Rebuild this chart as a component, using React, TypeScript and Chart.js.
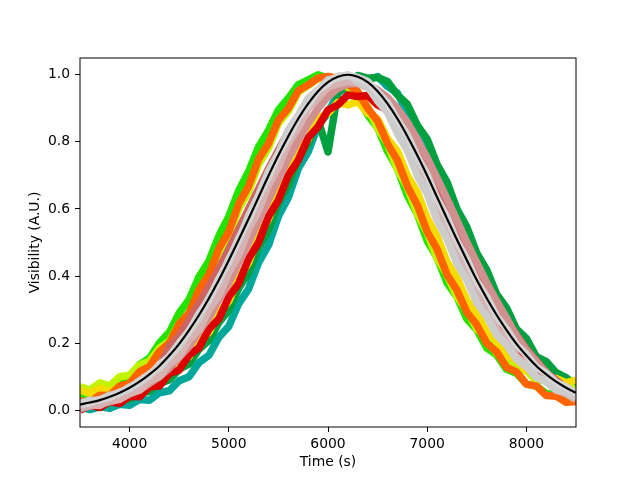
import React, { useEffect, useRef } from "react";
import { Chart, registerables } from "chart.js";

Chart.register(...registerables);

const times = [
  3500, 3600, 3700, 3800, 3900, 4000, 4100, 4200, 4300, 4400,
  4500, 4600, 4700, 4800, 4900, 5000, 5100, 5200, 5300, 5400,
  5500, 5600, 5700, 5800, 5900, 6000, 6100, 6200, 6300, 6400,
  6500, 6600, 6700, 6800, 6900, 7000, 7100, 7200, 7300, 7400,
  7500, 7600, 7700, 7800, 7900, 8000, 8100, 8200, 8300, 8400, 8500,
];

const xTicks = [4000, 5000, 6000, 7000, 8000];
const yTicks = [0, 0.2, 0.4, 0.6, 0.8, 1.0];

// measured traces, drawn bottom -> top
const teal = [0.008,0.002,0.01,0.006,0.018,0.015,0.032,0.03,0.052,0.058,0.088,0.1,0.142,0.164,0.218,0.25,0.318,0.362,0.44,0.492,0.578,0.634,0.72,0.77,0.848,0.886,0.945,0.965,0.99,0.985,0.995,0.965,0.945,0.886,0.848,0.772,0.718,0.636,0.578,0.494,0.44,0.362,0.318,0.25,0.218,0.165,0.14,0.1,0.088,0.058,0.052];
const darkGreen = [0.02,0.014,0.026,0.02,0.035,0.033,0.052,0.056,0.08,0.09,0.122,0.138,0.182,0.208,0.262,0.298,0.364,0.41,0.485,0.536,0.618,0.67,0.748,0.795,0.865,0.77,0.95,0.97,0.998,0.99,0.992,0.98,0.94,0.912,0.85,0.808,0.732,0.68,0.6,0.546,0.468,0.418,0.346,0.305,0.242,0.214,0.16,0.145,0.112,0.097,0.072];
const brightGreen = [0.04,0.036,0.058,0.064,0.09,0.1,0.136,0.155,0.2,0.232,0.29,0.33,0.398,0.445,0.52,0.578,0.655,0.712,0.785,0.834,0.895,0.93,0.97,0.985,1.0,0.99,0.992,0.96,0.935,0.88,0.842,0.772,0.72,0.64,0.585,0.505,0.455,0.38,0.338,0.272,0.24,0.186,0.165,0.122,0.11,0.078,0.072,0.05,0.046,0.03,0.03];
const yellowGreen = [0.07,0.06,0.082,0.072,0.1,0.104,0.135,0.146,0.185,0.205,0.258,0.288,0.352,0.392,0.468,0.518,0.6,0.652,0.732,0.782,0.855,0.892,0.948,0.968,0.99,0.985,0.98,0.965,0.93,0.905,0.84,0.795,0.718,0.665,0.585,0.53,0.452,0.405,0.338,0.3,0.242,0.218,0.17,0.158,0.12,0.118,0.088,0.09,0.07,0.078,0.06];
const yellow = [0.06,0.05,0.065,0.055,0.07,0.066,0.085,0.082,0.11,0.115,0.148,0.16,0.208,0.232,0.29,0.325,0.395,0.44,0.52,0.57,0.65,0.7,0.775,0.808,0.87,0.885,0.918,0.91,0.92,0.885,0.868,0.81,0.772,0.7,0.65,0.572,0.518,0.442,0.395,0.328,0.29,0.232,0.21,0.165,0.15,0.118,0.112,0.092,0.095,0.082,0.09];
const orange = [0.028,0.024,0.045,0.044,0.072,0.08,0.115,0.13,0.175,0.2,0.258,0.29,0.36,0.405,0.482,0.532,0.615,0.668,0.748,0.795,0.865,0.9,0.952,0.97,0.99,0.995,0.99,0.972,0.95,0.9,0.862,0.795,0.745,0.668,0.612,0.532,0.48,0.404,0.358,0.292,0.255,0.2,0.174,0.128,0.114,0.078,0.072,0.044,0.042,0.024,0.026];
const red = [0.0,0.015,0.008,0.026,0.02,0.042,0.04,0.07,0.072,0.11,0.12,0.165,0.186,0.242,0.272,0.338,0.378,0.452,0.5,0.578,0.626,0.7,0.745,0.812,0.845,0.895,0.91,0.94,0.935,0.938,0.91,0.895,0.845,0.812,0.745,0.702,0.626,0.578,0.5,0.452,0.378,0.338,0.272,0.242,0.186,0.165,0.12,0.108,0.072,0.068,0.04];
const rosy = [0.01,0.015,0.02,0.03,0.04,0.055,0.072,0.1,0.13,0.19,0.222,0.27,0.318,0.37,0.422,0.48,0.54,0.6,0.66,0.72,0.775,0.83,0.872,0.918,0.948,0.975,0.985,0.99,0.985,0.972,0.95,0.915,0.878,0.826,0.78,0.718,0.668,0.6,0.548,0.48,0.432,0.368,0.325,0.27,0.225,0.182,0.148,0.112,0.09,0.064,0.05];
const rosyLight = [0.005,0.012,0.018,0.025,0.034,0.048,0.06,0.08,0.1,0.125,0.158,0.19,0.235,0.276,0.33,0.38,0.44,0.5,0.565,0.628,0.69,0.75,0.805,0.855,0.9,0.935,0.96,0.972,0.975,0.97,0.955,0.932,0.9,0.858,0.808,0.752,0.692,0.63,0.566,0.5,0.44,0.38,0.325,0.275,0.22,0.178,0.145,0.11,0.085,0.062,0.045];
const pale = [0.006,0.016,0.014,0.03,0.032,0.052,0.06,0.088,0.1,0.138,0.16,0.21,0.24,0.3,0.342,0.412,0.462,0.54,0.595,0.672,0.725,0.798,0.842,0.9,0.93,0.965,0.972,0.98,0.975,0.962,0.935,0.9,0.85,0.8,0.73,0.676,0.6,0.54,0.466,0.412,0.345,0.3,0.242,0.207,0.16,0.136,0.1,0.086,0.06,0.05,0.032];
const gray = [0.02,0.03,0.03,0.045,0.05,0.07,0.08,0.108,0.125,0.16,0.19,0.236,0.275,0.335,0.385,0.45,0.505,0.58,0.64,0.712,0.765,0.835,0.878,0.93,0.955,0.985,0.99,1.0,0.98,0.965,0.922,0.888,0.825,0.775,0.7,0.645,0.566,0.51,0.438,0.388,0.32,0.28,0.225,0.195,0.152,0.13,0.098,0.085,0.062,0.054,0.04];
const grayLight = [0.018,0.022,0.032,0.038,0.054,0.064,0.088,0.104,0.135,0.16,0.2,0.236,0.288,0.33,0.392,0.444,0.512,0.568,0.638,0.696,0.764,0.812,0.872,0.91,0.954,0.975,0.996,0.998,0.992,0.98,0.948,0.916,0.866,0.82,0.756,0.702,0.63,0.575,0.504,0.45,0.384,0.338,0.28,0.242,0.195,0.166,0.128,0.11,0.082,0.07,0.05];
const fit = [0.017,0.023,0.030,0.040,0.052,0.067,0.085,0.107,0.132,0.163,0.198,0.239,0.284,0.334,0.388,0.447,0.508,0.571,0.635,0.699,0.760,0.817,0.869,0.914,0.951,0.978,0.994,1.0,0.994,0.978,0.951,0.914,0.869,0.817,0.760,0.699,0.635,0.571,0.508,0.447,0.388,0.334,0.284,0.239,0.198,0.163,0.132,0.107,0.085,0.067,0.052];

const traces = [
  { values: teal, color: "#00a89c" },
  { values: darkGreen, color: "#00a040" },
  { values: brightGreen, color: "#22e400" },
  { values: yellowGreen, color: "#c0f400" },
  { values: yellow, color: "#f5dc00" },
  { values: orange, color: "#ff6400" },
  { values: red, color: "#dd0000" },
  { values: rosy, color: "#cc6464" },
  { values: rosyLight, color: "#d09090" },
  { values: pale, color: "#d6b2b2" },
  { values: gray, color: "#cccccc" },
  { values: grayLight, color: "#d4d4d4" },
];

const FONT = { family: "'DejaVu Sans', sans-serif", size: 13.9 };

const spines = {
  id: "spines",
  afterDatasetsDraw(chart: any) {
    const { ctx, chartArea } = chart;
    const { left, top, right, bottom } = chartArea;
    ctx.save();
    ctx.strokeStyle = "#000";
    ctx.lineWidth = 1;
    ctx.strokeRect(left, top, right - left, bottom - top);
    ctx.restore();
  },
};

export default function App() {
  const ref = useRef<HTMLCanvasElement | null>(null);
  useEffect(() => {
    document.body.style.margin = "0";
    if (!ref.current) return;
    const toXY = (vals: number[]) => vals.map((v, i) => ({ x: times[i], y: v }));
    const datasets: any[] = traces.map((t) => ({
      data: toXY(t.values),
      borderColor: t.color,
      backgroundColor: t.color,
      borderWidth: 7.5,
      pointRadius: 0,
      tension: 0,
      borderJoinStyle: "round",
      borderCapStyle: "butt",
      clip: 0,
    }));
    datasets.push({
      data: toXY(fit),
      borderColor: "#000",
      borderWidth: 2.2,
      pointRadius: 0,
      cubicInterpolationMode: "monotone",
      clip: 0,
    });
    datasets.reverse();
    const chart = new Chart(ref.current, {
      type: "line",
      data: { datasets },
      plugins: [spines],
      options: {
        animation: false,
        responsive: false,
        devicePixelRatio: 1,
        layout: { padding: { left: 0, top: 58, right: 64, bottom: 0 } },
        plugins: { legend: { display: false }, tooltip: { enabled: false } },
        scales: {
          x: {
            type: "linear",
            min: 3500,
            max: 8500,
            afterFit: (s: any) => { s.height = 53; },
            afterBuildTicks: (s: any) => { s.ticks = xTicks.map((v) => ({ value: v })); },
            grid: { display: true, drawOnChartArea: false, drawTicks: true, tickLength: 5, color: "#000", lineWidth: 1 },
            border: { display: false },
            ticks: { color: "#000", font: FONT, padding: 4, maxRotation: 0, autoSkip: false, callback: (v: any) => String(v) },
            title: { display: true, text: "Time (s)", color: "#000", font: FONT, padding: { top: 0, bottom: 9 } },
          },
          y: {
            type: "linear",
            min: -0.05,
            max: 1.05,
            afterFit: (s: any) => { s.width = 80; },
            afterBuildTicks: (s: any) => { s.ticks = yTicks.map((v) => ({ value: v })); },
            grid: { display: true, drawOnChartArea: false, drawTicks: true, tickLength: 5, color: "#000", lineWidth: 1 },
            border: { display: false },
            ticks: { color: "#000", font: FONT, padding: 5, autoSkip: false, callback: (v: any) => Number(v).toFixed(1) },
            title: { display: true, text: "Visibility (A.U.)", color: "#000", font: FONT, padding: { top: 27, bottom: 0 } },
          },
        },
      },
    } as any);
    return () => chart.destroy();
  }, []);
  return <canvas ref={ref} width={640} height={480} style={{ display: "block", width: 640, height: 480 }} />;
}
